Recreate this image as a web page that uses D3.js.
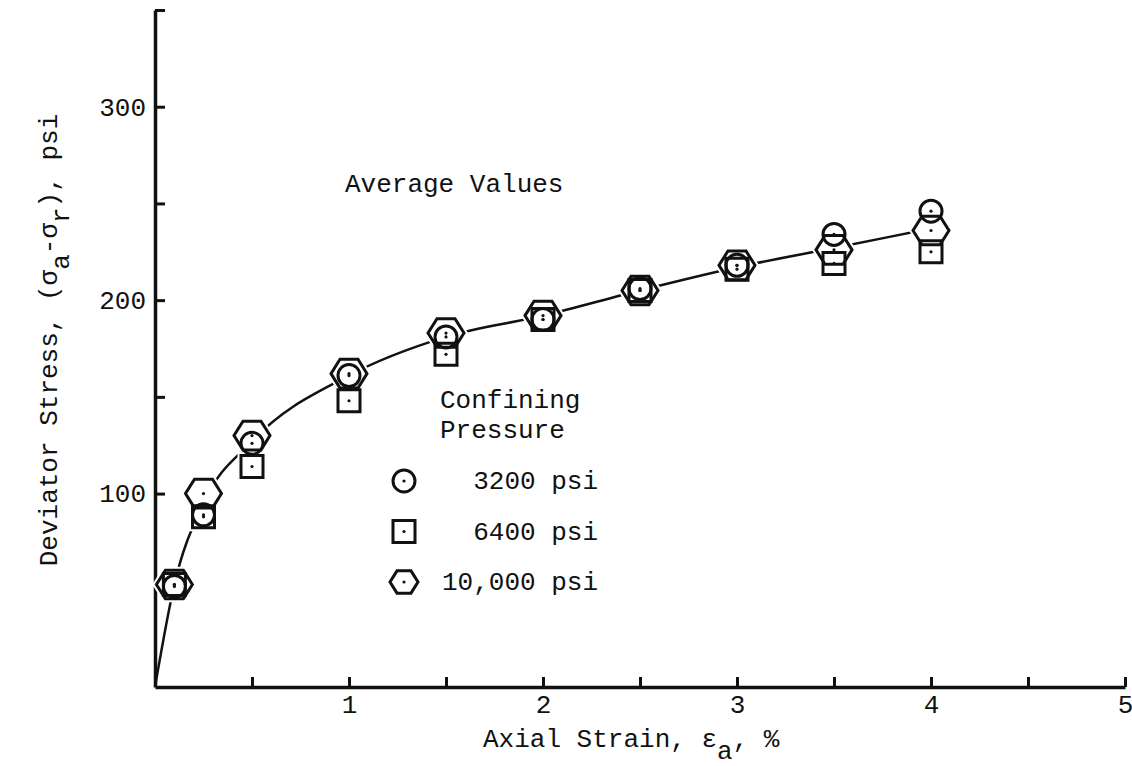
<!DOCTYPE html>
<html lang="en">
<head>
  <meta charset="UTF-8">
  <title>Deviator Stress vs Axial Strain</title>
  <script src="https://d3js.org/d3.v7.min.js"></script>
  <style>
    body { margin: 0; background: #fff; }
    text { font-family: "Liberation Mono", "DejaVu Sans Mono", monospace; font-size: 26px; fill: #111; }
  </style>
</head>
<body>
  <div id="chart"></div>
  <script>
    // Data
    const strain = [0.1, 0.25, 0.5, 1, 1.5, 2, 2.5, 3, 3.5, 4];
    const stress3200 = [52, 89, 126, 161, 181, 190, 206, 218, 234, 246];
    const stress6400 = [53, 88, 114, 148, 172, 190, 205, 216, 219, 225];
    const stress10000 = [53, 100, 130, 162, 183, 192, 205, 218, 226, 236];

    // averaged curve
    const curveStrain = [0, 0.1, 0.25, 0.5, 1, 1.5, 2, 2.5, 3, 3.5, 4];
    const curveStress = [0, 53, 95, 127, 161, 181, 192, 205, 217, 227, 237];

    const xMajor = [1, 2, 3, 4, 5];
    const xMinor = [0.5, 1.5, 2.5, 3.5, 4.5];
    const yMajor = [100, 200, 300];
    const yMinor = [50, 150, 250, 350];

    const pressures = ["3200 psi", "6400 psi", "10,000 psi"];
    const shapes = ["circle", "square", "hexagon"];

    const width = 1132, height = 766;

    const svg = d3.select("#chart").append("svg")
      .attr("width", width)
      .attr("height", height);

    const x = d3.scaleLinear().domain([0, 5]).range([155, 1125]);
    const y = d3.scaleLinear().domain([0, 350]).range([687, 10]);

    // axes
    const xAxis = svg.append("g")
      .attr("transform", `translate(0,${y(0)})`)
      .call(d3.axisBottom(x)
        .tickValues(xMajor.concat(xMinor))
        .tickFormat(d => xMajor.includes(d) ? d : "")
        .tickSizeInner(-10)
        .tickSizeOuter(0)
        .tickPadding(8));

    const yAxis = svg.append("g")
      .attr("transform", `translate(${x(0)},0)`)
      .call(d3.axisLeft(y)
        .tickValues(yMajor.concat(yMinor))
        .tickFormat(d => yMajor.includes(d) ? d : "")
        .tickSizeInner(-10)
        .tickSizeOuter(0)
        .tickPadding(9));

    [xAxis, yAxis].forEach(g => {
      g.select(".domain").attr("stroke", "#111").attr("stroke-width", 3.5);
      g.selectAll(".tick line").attr("stroke", "#111").attr("stroke-width", 3);
      g.selectAll(".tick text")
        .style("font-family", "Liberation Mono, DejaVu Sans Mono, monospace")
        .style("font-size", "26px")
        .attr("fill", "#111");
    });

    // axis titles
    const xTitle = svg.append("text")
      .attr("x", 483)
      .attr("y", 747);
    xTitle.append("tspan").text("Axial Strain, ε");
    xTitle.append("tspan").attr("dy", "0.45em").text("a");
    xTitle.append("tspan").attr("dy", "-0.45em").text(", %");

    const yTitle = svg.append("text")
      .attr("transform", "translate(57,340) rotate(-90)")
      .attr("text-anchor", "middle");
    yTitle.append("tspan").text("Deviator Stress, (σ");
    yTitle.append("tspan").attr("dy", "0.45em").text("a");
    yTitle.append("tspan").attr("dy", "-0.45em").text("-σ");
    yTitle.append("tspan").attr("dy", "0.45em").text("r");
    yTitle.append("tspan").attr("dy", "-0.45em").text("), psi");

    svg.append("text")
      .attr("x", 345)
      .attr("y", 192)
      .text("Average Values");

    // marker shapes
    function hexPath(r) {
      const pts = d3.range(6).map(i => {
        const a = i * Math.PI / 3;
        return [r * Math.cos(a), r * 0.92 * Math.sin(a)];
      });
      return d3.line().curve(d3.curveLinearClosed)(pts);
    }
    function shapePath(shape) {
      if (shape === "circle") return d3.symbol(d3.symbolCircle, Math.PI * 11 * 11)();
      if (shape === "square") return d3.symbol(d3.symbolSquare, 22 * 22)();
      return hexPath(18);
    }

    const series = [
      { shape: "circle", values: stress3200 },
      { shape: "square", values: stress6400 },
      { shape: "hexagon", values: stress10000 }
    ];
    const points = [];
    series.forEach(s => s.values.forEach((v, i) =>
      points.push({ shape: s.shape, x: strain[i], y: v })));

    // curve
    const curve = curveStrain.map((d, i) => [d, curveStress[i]]);
    svg.append("path")
      .datum(curve)
      .attr("fill", "none")
      .attr("stroke", "#111")
      .attr("stroke-width", 2.5)
      .attr("d", d3.line()
        .x(d => x(d[0]))
        .y(d => y(d[1]))
        .curve(d3.curveMonotoneX));

    // white knockouts so the line breaks at the markers
    svg.append("g").selectAll("path")
      .data(points)
      .join("path")
      .attr("transform", d => `translate(${x(d.x)},${y(d.y)})`)
      .attr("d", d => shapePath(d.shape))
      .attr("fill", "#fff")
      .attr("stroke", "#fff")
      .attr("stroke-width", 7);

    const marks = svg.append("g").selectAll("g")
      .data(points)
      .join("g")
      .attr("transform", d => `translate(${x(d.x)},${y(d.y)})`);
    marks.append("path")
      .attr("d", d => shapePath(d.shape))
      .attr("fill", "none")
      .attr("stroke", "#111")
      .attr("stroke-width", 3);
    marks.append("circle")
      .attr("r", 1.6)
      .attr("fill", "#111");

    // legend
    svg.append("text").attr("x", 440).attr("y", 408).text("Confining");
    svg.append("text").attr("x", 440).attr("y", 438).text("Pressure");

    const legendY = d3.scalePoint().domain(pressures).range([481, 582]);
    const leg = svg.append("g").selectAll("g")
      .data(pressures)
      .join("g");
    leg.append("path")
      .attr("transform", d => `translate(404,${legendY(d)})`)
      .attr("d", (d, i) => shapes[i] === "hexagon" ? hexPath(14) : shapePath(shapes[i]))
      .attr("fill", "none")
      .attr("stroke", "#111")
      .attr("stroke-width", 3);
    leg.append("circle")
      .attr("cx", 404)
      .attr("cy", d => legendY(d))
      .attr("r", 1.6)
      .attr("fill", "#111");
    leg.append("text")
      .attr("x", 598)
      .attr("y", d => legendY(d) + 8)
      .attr("text-anchor", "end")
      .text(d => d);
  </script>
</body>
</html>
